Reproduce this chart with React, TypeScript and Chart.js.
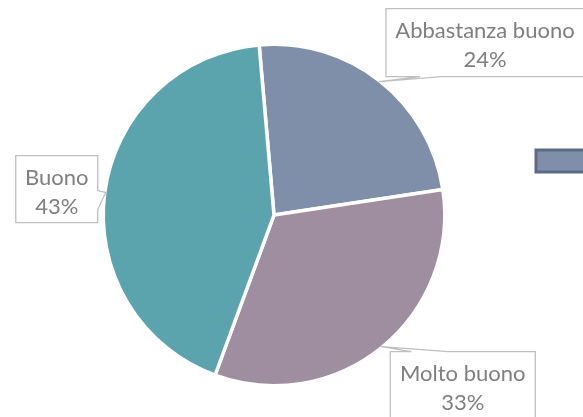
import React, { useEffect, useRef } from "react";
import { Chart, registerables } from "chart.js";

Chart.register(...registerables);

const categories = ["Abbastanza buono", "Molto buono", "Buono"];
const percentages = [24, 33, 43];
const percentLabels = ["24%", "33%", "43%"];
const sliceColors = ["#7F8FA9", "#9E8E9F", "#5BA3AD"];

type Callout = {
  bx: number; by: number; w: number; h: number;
  p1: [number, number]; p2: [number, number]; side: "top" | "bottom" | "right";
};

// box geometry relative to the anchor tip on the slice edge
const calloutGeom: Callout[] = [
  { bx: 7, by: -73, w: 198, h: 68, p1: [41, -5], p2: [63, -5], side: "bottom" },
  { bx: 9, by: 5, w: 145, h: 67, p1: [30, 5], p2: [67, 5], side: "top" },
  { bx: -90, by: -37, w: 82, h: 67, p1: [-8, -2], p2: [-8, 17], side: "right" },
];

const calloutPlugin = {
  id: "callouts",
  afterDraw(chart: any) {
    const ctx = chart.ctx as CanvasRenderingContext2D;
    const meta = chart.getDatasetMeta(0);
    ctx.save();
    meta.data.forEach((arc: any, i: number) => {
      const { x, y, startAngle, endAngle, outerRadius } = arc.getProps(
        ["x", "y", "startAngle", "endAngle", "outerRadius"], true);
      const mid = (startAngle + endAngle) / 2;
      const r = outerRadius - 1;
      const tx = x + Math.cos(mid) * r;
      const ty = y + Math.sin(mid) * r;
      const g = calloutGeom[i];
      const L = tx + g.bx, T = ty + g.by, R = L + g.w, B = T + g.h;
      const a = [tx + g.p1[0], ty + g.p1[1]];
      const b = [tx + g.p2[0], ty + g.p2[1]];
      ctx.beginPath();
      if (g.side === "bottom") {
        ctx.moveTo(L, T); ctx.lineTo(R, T); ctx.lineTo(R, B);
        ctx.lineTo(b[0], b[1]); ctx.lineTo(tx, ty); ctx.lineTo(a[0], a[1]);
        ctx.lineTo(L, B); ctx.closePath();
      } else if (g.side === "top") {
        ctx.moveTo(L, T); ctx.lineTo(a[0], a[1]); ctx.lineTo(tx, ty);
        ctx.lineTo(b[0], b[1]); ctx.lineTo(R, T); ctx.lineTo(R, B);
        ctx.lineTo(L, B); ctx.closePath();
      } else {
        ctx.moveTo(L, T); ctx.lineTo(R, T); ctx.lineTo(a[0], a[1]);
        ctx.lineTo(tx, ty); ctx.lineTo(b[0], b[1]); ctx.lineTo(R, B);
        ctx.lineTo(L, B); ctx.closePath();
      }
      ctx.fillStyle = "#FFFFFF";
      ctx.fill();
      ctx.strokeStyle = "#BFBFBF";
      ctx.lineWidth = 1.3;
      ctx.stroke();

      ctx.fillStyle = "#7F7F7F";
      ctx.font = "22px Lato";
      ctx.textAlign = "center";
      ctx.textBaseline = "alphabetic";
      const cx = (L + R) / 2;
      ctx.fillText(chart.data.labels[i], cx, T + 29);
      ctx.fillText(percentLabels[i], cx, T + 58.5);
    });

    // legend swatch (first entry, rest runs off the right edge)
    ctx.fillStyle = sliceColors[0];
    ctx.strokeStyle = "#5D6A84";
    ctx.lineWidth = 3;
    ctx.fillRect(536, 150, 60, 22);
    ctx.strokeRect(536, 150, 60, 22);
    ctx.restore();
  },
};

export default function App() {
  const ref = useRef<HTMLCanvasElement | null>(null);
  useEffect(() => {
    if (!ref.current) return;
    const chart = new Chart(ref.current, {
      type: "pie",
      data: {
        labels: categories,
        datasets: [
          {
            data: percentages,
            backgroundColor: sliceColors,
            borderColor: "#FFFFFF",
            borderWidth: 3.5,
            hoverOffset: 0,
          },
        ],
      },
      options: {
        responsive: false,
        animation: false,
        events: [],
        rotation: -5,
        layout: { padding: { left: 101.5, right: 136.5, top: 42.5, bottom: 29.5 } },
        plugins: { legend: { display: false }, tooltip: { enabled: false } },
      },
      plugins: [calloutPlugin],
    });
    return () => chart.destroy();
  }, []);
  return (
    <div style={{ position: "absolute", left: 0, top: 0, width: 583, height: 417, overflow: "hidden", background: "#FFFFFF" }}>
      <canvas ref={ref} width={583} height={417} style={{ display: "block" }} />
    </div>
  );
}
